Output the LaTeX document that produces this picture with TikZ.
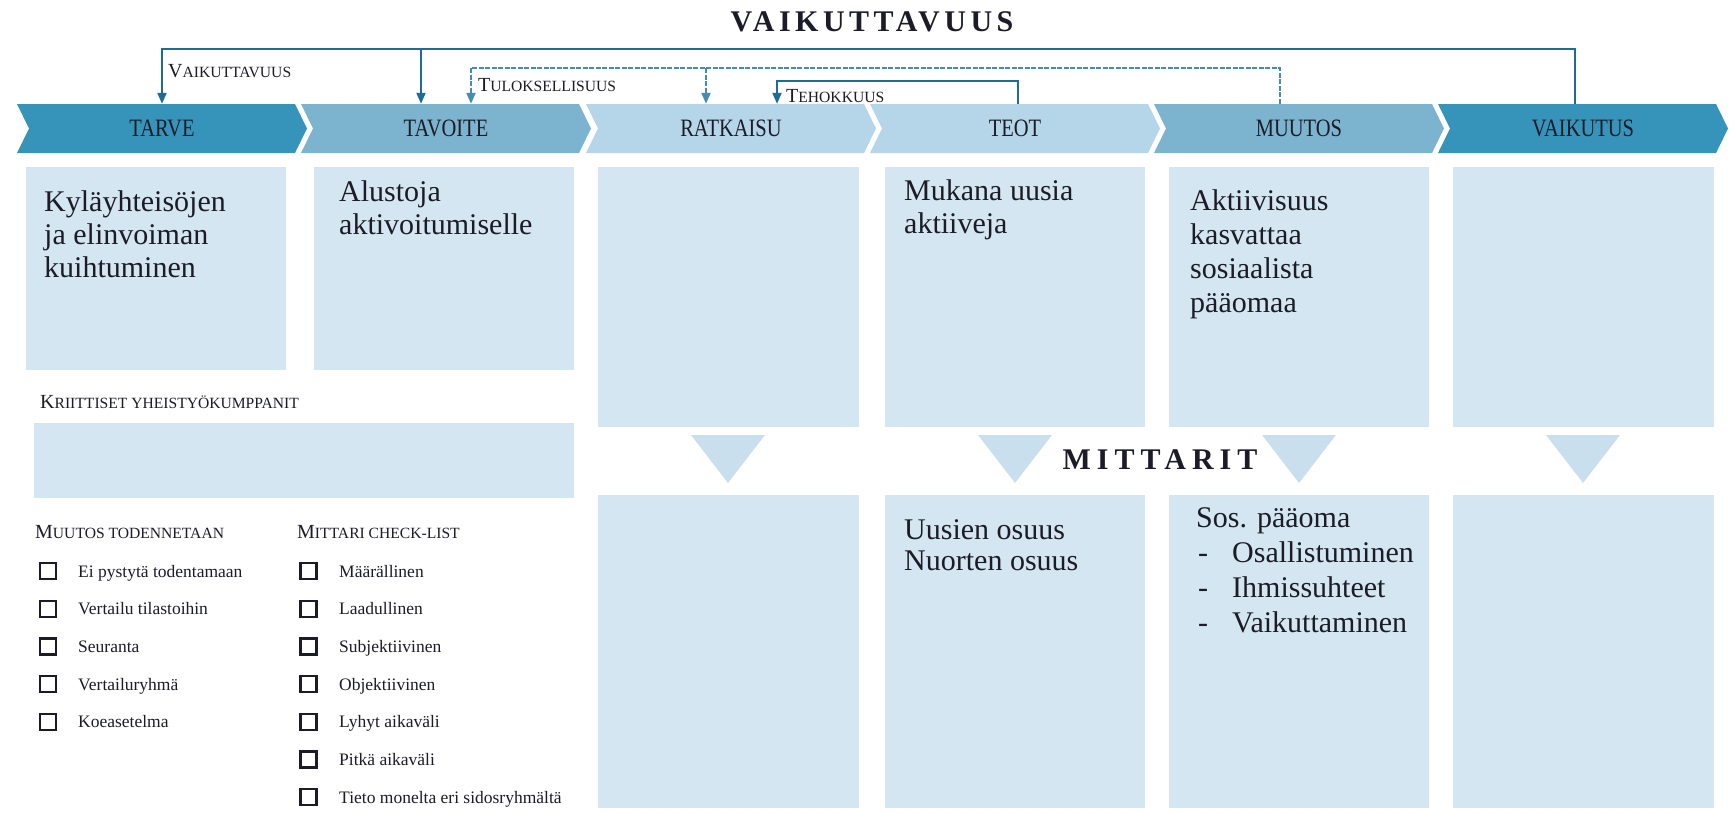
\documentclass[tikz,border=0pt]{standalone}
\usepackage{fontspec}
\usepackage{graphicx}
\setmainfont{Liberation Serif}
\usetikzlibrary{arrows.meta,calc}
\definecolor{cdark}{RGB}{54,148,187}
\definecolor{cmed}{RGB}{124,180,208}
\definecolor{clight}{RGB}{180,214,232}
\definecolor{cbox}{RGB}{212,230,241}
\definecolor{ctri}{RGB}{201,223,238}
\definecolor{cline}{RGB}{28,108,148}
\definecolor{cline2}{RGB}{70,140,175}
\definecolor{ctext}{RGB}{28,28,40}
\newcommand{\mysc}[2]{{\fontsize{20}{24}\selectfont #1}{\fontsize{15.6}{20}\selectfont #2}}
\newcommand{\chev}[2]{\fill[#2] (#1,104) -- ++(278,0) -- ++(12,24.5) -- ++(-12,24.5) -- ++(-278,0) -- ++(12,-24.5) -- cycle;}
\begin{document}
\begin{tikzpicture}[x=1pt,y=-1pt,
  chevlabel/.style={minimum width=266pt,minimum height=49pt,inner sep=0pt,text=ctext,font=\fontsize{25}{25}\selectfont},
  box/.style={fill=cbox,draw=none,inner sep=0pt,anchor=north west},
  boxtext/.style={anchor=north west,inner sep=0pt,align=left,text=ctext,font=\fontsize{30}{33}\selectfont},
  smlabel/.style={anchor=base west,inner sep=0pt,text=ctext},
  chk/.style={draw=ctext,line width=2.2pt,minimum size=16pt,inner sep=0pt},
  chktext/.style={anchor=base west,inner sep=0pt,text=ctext,font=\fontsize{17.5}{20}\selectfont},
  vline/.style={draw=cline,line width=2pt},
  tline/.style={draw=cline2,line width=2pt,dash pattern=on 5pt off 1.5pt},
  arr/.style={-{Triangle[width=9pt,length=11pt]}},
  tri/.style={fill=ctri}]
\useasboundingbox (0,0) rectangle (1736,812);
\fill[white] (0,0) rectangle (1736,812);

% title
\node[text=ctext,font={\fontsize{30}{30}\selectfont\bfseries\addfontfeature{LetterSpace=15}}] (title) at (872,22) {VAIKUTTAVUUS};

% chevrons
\chev{17}{cdark}
\chev{301}{cmed}
\chev{586}{clight}
\chev{870}{clight}
\chev{1154}{cmed}
\chev{1438}{cdark}
\node[chevlabel] (c1) at (162,128.5) {\scalebox{0.82}[1]{TARVE}};
\node[chevlabel] (c2) at (446,128.5) {\scalebox{0.82}[1]{TAVOITE}};
\node[chevlabel] (c3) at (731,128.5) {\scalebox{0.82}[1]{RATKAISU}};
\node[chevlabel] (c4) at (1015,128.5) {\scalebox{0.82}[1]{TEOT}};
\node[chevlabel] (c5) at (1299,128.5) {\scalebox{0.82}[1]{MUUTOS}};
\node[chevlabel] (c6) at (1583,128.5) {\scalebox{0.82}[1]{VAIKUTUS}};

% connectors
\coordinate (vk1) at (162,49);
\coordinate (vk2) at (421,49);
\coordinate (vk3) at (1575,49);
\coordinate (tu1) at (471,68);
\coordinate (tu2) at (706,68);
\coordinate (tu3) at (1280,68);
\coordinate (te1) at (777,81);
\coordinate (te2) at (1018,81);
\draw[tline,arr] (tu3 |- c5.north) -- (tu3) -- (tu1) -- (tu1 |- c2.north);
\draw[tline,arr] (tu2) -- (tu2 |- c3.north);
\draw[vline,arr] (vk3 |- c6.north) -- (vk3) -- (vk1) -- (vk1 |- c1.north);
\draw[vline,arr] (vk2) -- (vk2 |- c2.north);
\draw[vline,arr] (te2 |- c4.north) -- (te2) -- (te1) -- (te1 |- c3.north);

\node[smlabel] (lv) at (168,77) {\mysc{V}{AIKUTTAVUUS}};
\node[smlabel] (lt) at (478,91) {\mysc{T}{ULOKSELLISUUS}};
\node[smlabel] (lh) at (786,102) {\mysc{T}{EHOKKUUS}};

% row 1 boxes
\node[box,minimum width=260pt,minimum height=203pt] (b1) at (26,167) {};
\node[box,minimum width=260pt,minimum height=203pt] (b2) at (314,167) {};
\node[box,minimum width=261pt,minimum height=260pt] (b3) at (598,167) {};
\node[box,minimum width=260pt,minimum height=260pt] (b4) at (885,167) {};
\node[box,minimum width=260pt,minimum height=260pt] (b5) at (1169,167) {};
\node[box,minimum width=261pt,minimum height=260pt] (b6) at (1453,167) {};

\node[boxtext] (t1) at (44,190.5) {Kyläyhteisöjen\\ja elinvoiman\\kuihtuminen};
\node[boxtext] (t2) at (339,180.5) {Alustoja\\aktivoitumiselle};
\node[boxtext] (t4) at (904,179.5) {Mukana uusia\\aktiiveja};
\node[boxtext,font=\fontsize{30}{34}\selectfont] (t5) at (1190,189.5) {Aktiivisuus\\kasvattaa\\sosiaalista\\pääomaa};

% critical partners
\node[smlabel] (lk) at (40,408) {\mysc{K}{RIITTISET YHEISTYÖKUMPPANIT}};
\node[box,minimum width=540pt,minimum height=75pt] (bk) at (34,423) {};

% triangles
\fill[tri] (691,435) -- (765,435) -- (728,483) -- cycle;
\fill[tri] (978,435) -- (1052,435) -- (1015,483) -- cycle;
\fill[tri] (1262,435) -- (1336,435) -- (1299,483) -- cycle;
\fill[tri] (1546,435) -- (1620,435) -- (1583,483) -- cycle;
\node[text=ctext,font={\fontsize{30}{30}\selectfont\bfseries\addfontfeature{LetterSpace=20}}] (mit) at (1160,460) {MITTARIT};

% row 2 boxes
\node[box,minimum width=261pt,minimum height=313pt] (m3) at (598,495) {};
\node[box,minimum width=260pt,minimum height=313pt] (m4) at (885,495) {};
\node[box,minimum width=260pt,minimum height=313pt] (m5) at (1169,495) {};
\node[box,minimum width=261pt,minimum height=313pt] (m6) at (1453,495) {};

\node[boxtext,font=\fontsize{30}{31}\selectfont] (u4) at (904,519.5) {Uusien osuus\\Nuorten osuus};
\node[boxtext,font=\fontsize{30}{35}\selectfont] (u5) at (1196,507.5) {Sos. pääoma\\\makebox[36pt][l]{\hspace{2pt}-}Osallistuminen\\\makebox[36pt][l]{\hspace{2pt}-}Ihmissuhteet\\\makebox[36pt][l]{\hspace{2pt}-}Vaikuttaminen};

% check lists
\node[smlabel] (lm) at (35,538) {\mysc{M}{UUTOS TODENNETAAN}};
\node[smlabel] (lc) at (297,538) {\mysc{M}{ITTARI CHECK-LIST}};
\foreach \t [count=\i] in {Ei pystytä todentamaan,Vertailu tilastoihin,Seuranta,Vertailuryhmä,Koeasetelma}{
  \node[chk] (qa\i) at (48,{571+37.7*(\i-1)}) {};
  \node[chktext] (qt\i) at (78,{577+37.7*(\i-1)}) {\t};
}
\foreach \t [count=\i] in {Määrällinen,Laadullinen,Subjektiivinen,Objektiivinen,Lyhyt aikaväli,Pitkä aikaväli,Tieto monelta eri sidosryhmältä}{
  \node[chk] (pa\i) at (308.5,{571+37.7*(\i-1)}) {};
  \node[chktext] (pt\i) at (339,{577+37.7*(\i-1)}) {\t};
}
\end{tikzpicture}
\end{document}
